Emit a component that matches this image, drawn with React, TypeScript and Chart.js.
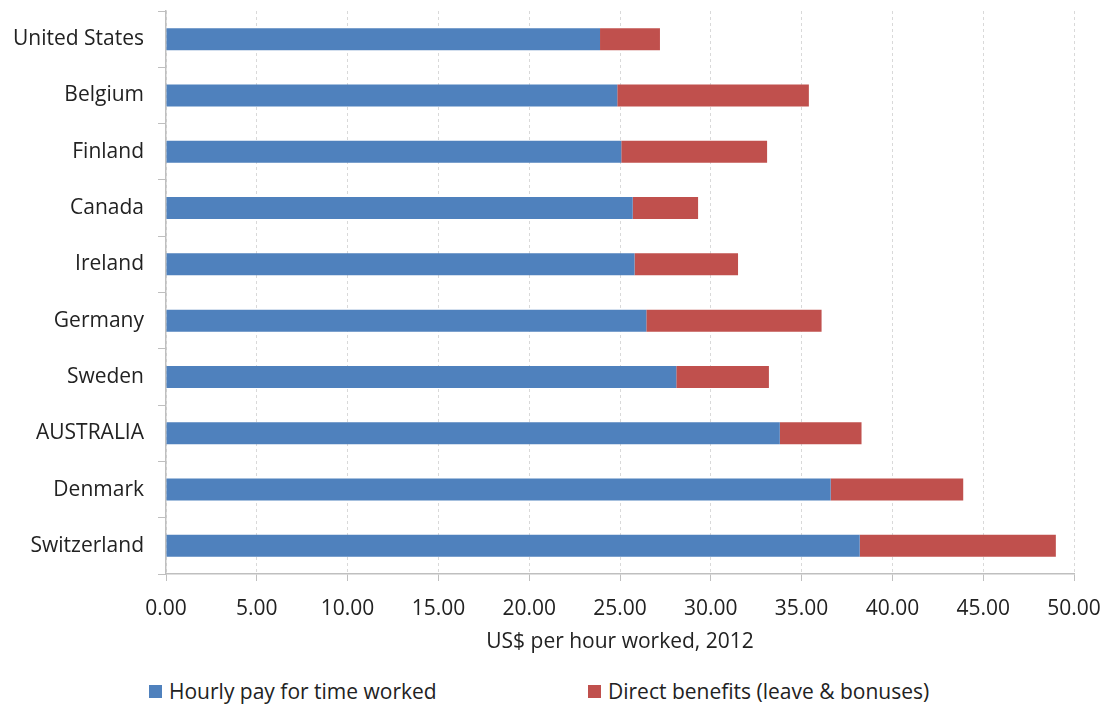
import React, { useEffect, useRef } from "react";
import { Chart, registerables } from "chart.js";

Chart.register(...registerables);

const countries = [
  "United States",
  "Belgium",
  "Finland",
  "Canada",
  "Ireland",
  "Germany",
  "Sweden",
  "AUSTRALIA",
  "Denmark",
  "Switzerland",
];
const hourlyPay = [23.9, 24.85, 25.07, 25.7, 25.8, 26.45, 28.1, 33.8, 36.6, 38.2];
const directBenefits = [3.3, 10.55, 8.03, 3.6, 5.7, 9.65, 5.1, 4.5, 7.3, 10.8];
const xTicks = [0, 5, 10, 15, 20, 25, 30, 35, 40, 45, 50];
const seriesNames = ["Hourly pay for time worked", "Direct benefits (leave & bonuses)"];
const seriesColors = ["#4F81BD", "#C0504D"];
const axisTitle = "US$ per hour worked, 2012";

const FONT = "'Open Sans', Lato, sans-serif";
const FS = 21;

export default function App() {
  const ref = useRef<HTMLCanvasElement | null>(null);

  useEffect(() => {
    if (!ref.current) return;
    const chart = new Chart(ref.current, {
      type: "bar",
      data: {
        labels: countries,
        datasets: [
          {
            label: seriesNames[0],
            data: hourlyPay,
            backgroundColor: seriesColors[0],
            categoryPercentage: 1,
            barPercentage: 0.39,
          },
          {
            label: seriesNames[1],
            data: directBenefits,
            backgroundColor: seriesColors[1],
            categoryPercentage: 1,
            barPercentage: 0.39,
          },
        ],
      },
      options: {
        indexAxis: "y",
        animation: false,
        responsive: false,
        maintainAspectRatio: false,
        layout: { padding: { top: 3, right: 37, left: 0, bottom: 0 } },
        plugins: {
          legend: { display: false },
          tooltip: { enabled: false },
        },
        scales: {
          x: {
            stacked: true,
            min: 0,
            max: 50,
            afterBuildTicks: (scale: any) => {
              scale.ticks = xTicks.map((v) => ({ value: v }));
            },
            afterFit: (scale: any) => {
              scale.height = 84;
              scale.paddingLeft = 0;
              scale.paddingRight = 0;
            },
            ticks: {
              color: "#222222",
              font: { family: FONT, size: FS },
              padding: 15,
              callback: (v: any) => Number(v).toFixed(2),
            },
            grid: {
              color: "#d9d9d9",
              lineWidth: 1,
              tickLength: 7,
              tickColor: "#bfbfbf",
              tickBorderDash: [],
            },
            border: { display: true, color: "#bfbfbf", width: 1.5, dash: [3, 3] },
            title: {
              display: true,
              text: axisTitle,
              color: "#222222",
              font: { family: FONT, size: FS },
              padding: { top: 4, bottom: 3 },
            },
          },
          y: {
            stacked: true,
            afterFit: (scale: any) => {
              scale.width = 158;
              scale.paddingTop = 0;
              scale.paddingBottom = 0;
            },
            ticks: {
              color: "#222222",
              font: { family: FONT, size: FS },
              padding: 14,
            },
            grid: {
              offset: true,
              drawOnChartArea: false,
              tickLength: 8,
              color: "#bfbfbf",
              tickColor: "#bfbfbf",
            },
            border: { display: true, color: "#bfbfbf", width: 1.5 },
          },
        },
      },
    });
    return () => chart.destroy();
  }, []);

  const legendItem = (i: number, left: number) => (
    <div
      key={i}
      style={{
        position: "absolute",
        left,
        top: 669,
        display: "flex",
        alignItems: "center",
        fontFamily: FONT,
        fontSize: FS,
        color: "#222222",
        whiteSpace: "nowrap",
      }}
    >
      <span
        style={{
          display: "inline-block",
          width: 13,
          height: 13,
          background: seriesColors[i],
          marginRight: 7,
        }}
      />
      {seriesNames[i]}
    </div>
  );

  return (
    <div style={{ position: "relative", width: 1103, height: 698 }}>
      <canvas ref={ref} width={1103} height={650} style={{ display: "block" }} />
      {legendItem(0, 141)}
      {legendItem(1, 580)}
    </div>
  );
}
